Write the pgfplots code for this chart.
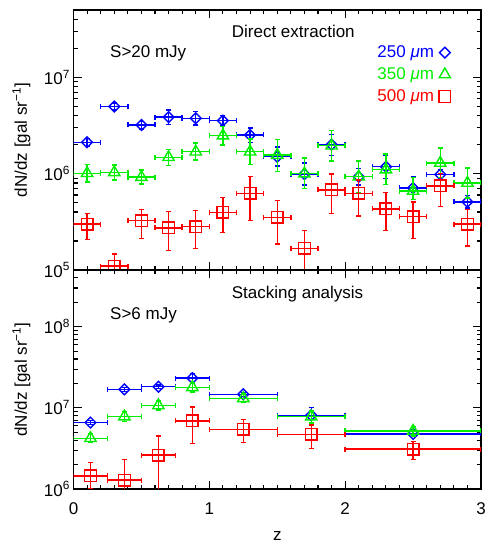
\documentclass[border=0pt]{standalone}
\usepackage{fontspec}
\setmainfont{Liberation Sans}
\usepackage{pgfplots}
\usepackage{pgfplotstable}
\pgfplotsset{compat=1.18}

\definecolor{idlblue}{rgb}{0,0,1}
\definecolor{idlgreen}{rgb}{0,0.93,0}
\definecolor{idlred}{rgb}{1,0,0}

% direct extraction (S>20 mJy): z, half bin, dN/dz, upper / lower error
\pgfplotstableread{
x    ex   y       ep      em
0.1  0.1  2.12e6  0.20e6  0.20e6
0.3  0.1  4.97e6  0.45e6  0.40e6
0.5  0.1  3.20e6  0.30e6  0.30e6
0.7  0.1  3.86e6  0.70e6  0.60e6
0.9  0.1  3.76e6  0.65e6  0.55e6
1.1  0.1  3.55e6  0.45e6  0.40e6
1.3  0.1  2.52e6  0.45e6  0.40e6
1.5  0.1  1.50e6  0.40e6  0.30e6
1.7  0.1  0.99e6  0.30e6  0.23e6
1.9  0.1  2.00e6  0.55e6  0.45e6
2.1  0.1  0.93e6  0.20e6  0.17e6
2.3  0.1  1.18e6  0.38e6  0.29e6
2.5  0.1  7.10e5  2.10e5  1.70e5
2.7  0.1  9.80e5  1.20e5  1.20e5
2.9  0.1  5.10e5  0.80e5  0.70e5
}\topblue
\pgfplotstableread{
x    ex   y       ep      em
0.1  0.1  1.01e6  0.24e6  0.19e6
0.3  0.1  1.03e6  0.20e6  0.17e6
0.5  0.1  9.20e5  1.70e5  1.40e5
0.7  0.1  1.48e6  0.30e6  0.26e6
0.9  0.1  1.69e6  0.40e6  0.30e6
1.1  0.1  2.48e6  0.60e6  0.50e6
1.3  0.1  1.69e6  0.60e6  0.45e6
1.5  0.1  1.56e6  0.70e6  0.50e6
1.7  0.1  1.00e6  0.45e6  0.30e6
1.9  0.1  1.95e6  0.85e6  0.60e6
2.1  0.1  0.93e6  0.42e6  0.29e6
2.3  0.1  1.10e6  0.50e6  0.33e6
2.5  0.1  6.60e5  2.50e5  1.20e5
2.7  0.1  1.29e6  0.55e6  0.38e6
2.9  0.1  8.00e5  3.40e5  2.40e5
}\topgreen
\pgfplotstableread{
x    ex   y       ep      em
0.1  0.1  3.00e5  0.88e5  0.92e5
0.3  0.1  1.10e5  0.37e5  0.40e5
0.5  0.1  3.25e5  1.02e5  1.12e5
0.7  0.1  2.73e5  1.30e5  1.14e5
0.9  0.1  2.82e5  1.31e5  1.14e5
1.1  0.1  3.97e5  1.66e5  1.53e5
1.3  0.1  6.25e5  3.05e5  3.00e5
1.5  0.1  3.52e5  1.73e5  1.66e5
1.7  0.1  1.68e5  0.88e5  0.70e5
1.9  0.1  6.77e5  3.13e5  2.89e5
2.1  0.1  6.25e5  2.35e5  2.61e5
2.3  0.1  4.30e5  2.05e5  1.74e5
2.5  0.1  3.57e5  1.53e5  1.44e5
2.7  0.1  7.45e5  2.65e5  2.90e5
2.9  0.1  3.00e5  1.27e5  1.23e5
}\topred

% stacking analysis (S>6 mJy)
\pgfplotstableread{
x      ex     y       ep      em
0.125  0.125  6.58e6  0.35e6  0.30e6
0.375  0.125  1.69e7  0.10e7  0.10e7
0.625  0.125  1.82e7  0.10e7  0.10e7
0.875  0.125  2.32e7  0.35e7  0.30e7
1.25   0.25   1.47e7  0.08e7  0.08e7
1.75   0.25   8.10e6  2.00e6  1.50e6
2.5    0.5    4.77e6  0.30e6  0.30e6
}\botblue
\pgfplotstableread{
x      ex     y       ep      em
0.125  0.125  4.22e6  0.60e6  0.50e6
0.375  0.125  7.80e6  1.20e6  1.00e6
0.625  0.125  1.07e7  0.14e7  0.13e7
0.875  0.125  1.79e7  0.28e7  0.22e7
1.25   0.25   1.31e7  0.17e7  0.15e7
1.75   0.25   7.80e6  1.30e6  1.30e6
2.5    0.5    5.19e6  0.70e6  0.70e6
}\botgreen
\pgfplotstableread{
x      ex     y       ep      em
0.125  0.125  1.45e6  0.66e6  0.43e6
0.375  0.125  1.29e6  1.03e6  0.50e6
0.625  0.125  2.62e6  1.90e6  2.00e6
0.875  0.125  6.90e6  3.40e6  3.24e6
1.25   0.25   5.45e6  1.75e6  1.73e6
1.75   0.25   4.72e6  1.43e6  1.55e6
2.5    0.5    3.11e6  0.72e6  0.79e6
}\botred

\pgfplotsset{
  every axis/.append style={
    scale only axis, width=407.5pt, anchor=south west,
    xmin=0, xmax=3, ymode=log, log basis y=10,
    xtick={0,1,2,3}, minor x tick num=9,
    major tick length=8pt, minor tick length=4pt,
    tick style={black, line width=1.1pt},
    axis line style={line width=1.3pt},
    tick label style={font=\fontsize{17}{20}\selectfont},
    label style={font=\fontsize{17}{20}\selectfont},
    yticklabel={10\textsuperscript{\pgfmathparse{int(round(\tick))}\pgfmathresult}},
    ylabel={dN/dz [gal sr\textsuperscript{−1}]},
    clip marker paths=true,
  },
  every axis y label/.style={at={(axis description cs:0,0.5)}, rotate=90,
    anchor=south, inner sep=0pt, yshift=43pt},
  every axis plot/.append style={
    only marks,
    error bars/x dir=both, error bars/x explicit,
    error bars/y dir=both, error bars/y explicit,
    error bars/error bar style={line width=1.4pt},
    error bars/error mark options={rotate=90, mark size=2.5pt, line width=1.4pt},
  },
  cycle list={
    {idlblue, mark=square, mark size=3.8pt, mark options={rotate=45, line width=1.4pt}},
    {idlgreen, mark=triangle, mark size=6.5pt, mark options={line width=1.4pt}},
    {idlred, mark=square, mark size=5.8pt, mark options={line width=1.4pt}}},
}

\begin{document}
\begin{tikzpicture}
\begin{axis}[at={(73.5pt,274pt)}, height=260pt,
  ymin=1e5, ymax=5e7, xticklabels={},
  legend plot pos=right, legend cell align=right,
  legend style={at={(rel axis cs:0.926,0.87)}, anchor=north east, draw=none, fill=none,
    font=\fontsize{17}{20}\selectfont, row sep=4.5pt, column sep=3pt, inner sep=0pt},
]
\addplot table[x=x, y=y, x error=ex, y error plus=ep, y error minus=em] {\topblue};
\addlegendentry{\textcolor{idlblue}{250 \textit{μ}m}}
\addplot table[x=x, y=y, x error=ex, y error plus=ep, y error minus=em] {\topgreen};
\addlegendentry{\textcolor{idlgreen}{350 \textit{μ}m}}
\addplot table[x=x, y=y, x error=ex, y error plus=ep, y error minus=em] {\topred};
\addlegendentry{\textcolor{idlred}{500 \textit{μ}m}}
\end{axis}

\begin{axis}[at={(73.5pt,55pt)}, height=219pt,
  ymin=1e6, ymax=5e8, xticklabels={0,1,2,3},
  xticklabel style={yshift=-10pt},
  xlabel={z}, xlabel style={at={(axis description cs:0.5,0)}, anchor=base, inner sep=0pt, yshift=-52pt},
]
\addplot table[x=x, y=y, x error=ex, y error plus=ep, y error minus=em] {\botblue};
\addplot table[x=x, y=y, x error=ex, y error plus=ep, y error minus=em] {\botgreen};
\addplot table[x=x, y=y, x error=ex, y error plus=ep, y error minus=em] {\botred};
\end{axis}

\begin{scope}[every node/.style={anchor=base west, inner sep=0pt, font=\fontsize{17}{20}\selectfont}]
\node at (231.7pt,506.7pt) {Direct extraction};
\node at (110pt,486.7pt) {S>20 mJy};
\node at (231.7pt,245.7pt) {Stacking analysis};
\node at (110pt,224.7pt) {S>6 mJy};
\end{scope}

\pgfresetboundingbox
\path[use as bounding box] (0,0) rectangle (491pt,544pt);
\end{tikzpicture}
\end{document}
